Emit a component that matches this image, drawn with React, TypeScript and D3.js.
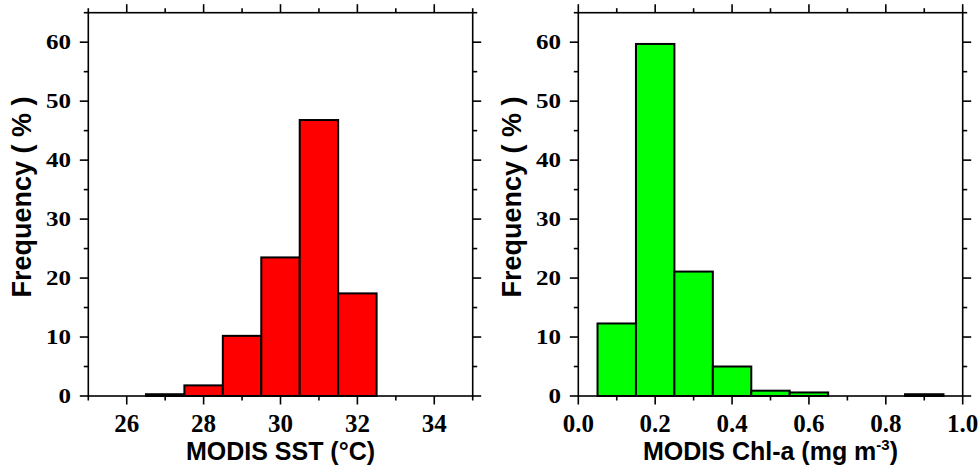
import React from "react";
import * as d3 from "d3";

// ---- data ----
const sstBinStart = [26.5, 27.5, 28.5, 29.5, 30.5, 31.5];
const sstBinWidth = 1;
const sstFreq = [0.3, 1.8, 10.2, 23.5, 46.8, 17.4];

const chlBinStart = [0.05, 0.15, 0.25, 0.35, 0.45, 0.55, 0.65, 0.75, 0.85];
const chlBinWidth = 0.1;
const chlFreq = [12.3, 59.7, 21.1, 5.0, 0.9, 0.6, 0, 0, 0.3];

const sstMajorTicks = [26, 28, 30, 32, 34];
const sstMinorTicks = [25, 27, 29, 31, 33, 35];
const chlMajorTicks = [0.0, 0.2, 0.4, 0.6, 0.8, 1.0];
const chlMinorTicks = [0.1, 0.3, 0.5, 0.7, 0.9];
const yMajorTicks = [0, 10, 20, 30, 40, 50, 60];
const yMinorTicks = [5, 15, 25, 35, 45, 55, 65];

const W = 980;
const H = 472;
const PL = 88.3;
const PR = 472.7;
const PT = 12.7;
const PB = 396;

const serif = "'Liberation Serif', 'Times New Roman', serif";
const sans = "'Liberation Sans', Arial, Helvetica, sans-serif";

type PanelProps = {
  ox: number;
  domain: [number, number];
  starts: number[];
  width: number;
  freq: number[];
  major: number[];
  minor: number[];
  fmt: (v: number) => string;
  fill: string;
  title: React.ReactNode;
};

function Panel({ ox, domain, starts, width, freq, major, minor, fmt, fill, title }: PanelProps) {
  const x = d3.scaleLinear().domain(domain).range([PL, PR]);
  const y = d3.scaleLinear().domain([0, 65]).range([PB, PT]);
  const bars = starts
    .map((s, i) => ({ s, v: freq[i] }))
    .filter((b) => b.v > 0);
  const MAJ = 8.5;
  const MIN = 4.5;
  const sw = 1.6;
  return (
    <g transform={`translate(${ox},0)`}>
      {bars.map((b, i) => (
        <rect
          key={i}
          x={x(b.s)}
          y={y(b.v)}
          width={x(b.s + width) - x(b.s)}
          height={y(0) - y(b.v)}
          fill={fill}
          stroke="#000"
          strokeWidth={2}
        />
      ))}
      <rect x={PL} y={PT} width={PR - PL} height={PB - PT} fill="none" stroke="#000" strokeWidth={sw} />
      {/* x ticks */}
      {major.map((t, i) => (
        <g key={"xm" + i}>
          <line x1={x(t)} x2={x(t)} y1={PB} y2={PB + MAJ} stroke="#000" strokeWidth={sw} />
          <line x1={x(t)} x2={x(t)} y1={PT} y2={PT - MAJ} stroke="#000" strokeWidth={sw} />
          <text
            x={x(t)}
            y={432}
            textAnchor="middle"
            fontFamily={serif}
            fontWeight="bold"
            fontSize={25}
            fill="#000"
          >
            {fmt(t)}
          </text>
        </g>
      ))}
      {minor.map((t, i) => (
        <g key={"xn" + i}>
          <line x1={x(t)} x2={x(t)} y1={PB} y2={PB + MIN} stroke="#000" strokeWidth={sw} />
          <line x1={x(t)} x2={x(t)} y1={PT} y2={PT - MIN} stroke="#000" strokeWidth={sw} />
        </g>
      ))}
      {/* y ticks */}
      {yMajorTicks.map((t, i) => (
        <g key={"ym" + i}>
          <line x1={PL} x2={PL - MAJ} y1={y(t)} y2={y(t)} stroke="#000" strokeWidth={sw} />
          <line x1={PR} x2={PR + MAJ} y1={y(t)} y2={y(t)} stroke="#000" strokeWidth={sw} />
          <text
            transform={`translate(71,${y(t) + 7.3}) scale(1,0.87)`}
            textAnchor="end"
            fontFamily={serif}
            fontWeight="bold"
            fontSize={25}
            fill="#000"
          >
            {t}
          </text>
        </g>
      ))}
      {yMinorTicks.map((t, i) => (
        <g key={"yn" + i}>
          <line x1={PL} x2={PL - MIN} y1={y(t)} y2={y(t)} stroke="#000" strokeWidth={sw} />
          <line x1={PR} x2={PR + MIN} y1={y(t)} y2={y(t)} stroke="#000" strokeWidth={sw} />
        </g>
      ))}
      <text
        transform={`translate(31,197) rotate(-90)`}
        textAnchor="middle"
        fontFamily={sans}
        fontWeight="bold"
        fontSize={27}
        fill="#000"
      >
        Frequency ( % )
      </text>
      <text
        x={(PL + PR) / 2}
        y={460}
        textAnchor="middle"
        fontFamily={sans}
        fontWeight="bold"
        fontSize={25}
        fill="#000"
      >
        {title}
      </text>
    </g>
  );
}

export default function App() {
  const f0 = (v: number) => String(v);
  const f1 = d3.format(".1f");
  return (
    <svg
      width={W}
      height={H}
      viewBox={`0 0 ${W} ${H}`}
      style={{ position: "absolute", left: 0, top: 0, background: "#fff" }}
    >
      <rect x={0} y={0} width={W} height={H} fill="#fff" />
      <Panel
        ox={0}
        domain={[25, 35]}
        starts={sstBinStart}
        width={sstBinWidth}
        freq={sstFreq}
        major={sstMajorTicks}
        minor={sstMinorTicks}
        fmt={f0}
        fill="#ff0000"
        title={"MODIS SST (°C)"}
      />
      <Panel
        ox={490}
        domain={[0, 1]}
        starts={chlBinStart}
        width={chlBinWidth}
        freq={chlFreq}
        major={chlMajorTicks}
        minor={chlMinorTicks}
        fmt={(v) => f1(v)}
        fill="#00ff00"
        title={
          <>
            MODIS Chl-a (mg m
            <tspan dy={-10} fontSize={15}>-3</tspan>
            <tspan dy={10}>)</tspan>
          </>
        }
      />
    </svg>
  );
}
